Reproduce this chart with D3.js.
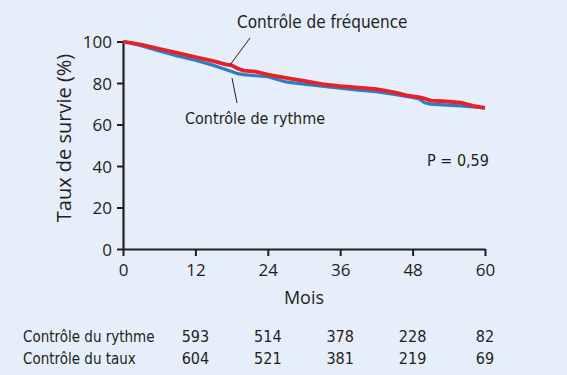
<!DOCTYPE html>
<html>
<head>
<meta charset="utf-8">
<script src="https://cdn.jsdelivr.net/npm/d3@7"></script>
<style>
  body { margin: 0; background: #e6eef9; }
  svg { display: block; font-family: "Liberation Sans Narrow", "DejaVu Sans Condensed", sans-serif; }
  text { fill: #231f20; }
</style>
</head>
<body>
<svg id="chart"></svg>
<script>
// Kaplan-Meier curves
const months = [0, 3, 6, 9, 12, 15, 17, 18, 19, 20, 22, 24, 27, 30, 33, 36, 39, 42, 45, 47, 49, 50, 51, 53, 56, 58, 60];
const rateControl = [100, 98.5, 96.5, 94.5, 92.5, 90.5, 89, 88.5, 87, 86, 85.5, 84, 82.5, 81, 79.5, 78.5, 77.8, 77, 75.5, 74, 73.2, 72.5, 71.5, 71.2, 70.5, 69, 68];
const rhythmControl = [100, 98, 95.5, 93, 91, 88.5, 86.5, 85.5, 84.5, 84, 83.5, 83, 80.5, 79.5, 78.5, 77.5, 76.5, 75.8, 74.5, 73.5, 72.5, 70.5, 69.8, 69.5, 69, 68.5, 68];

const xTicks = [0, 12, 24, 36, 48, 60];
const yTicks = [0, 20, 40, 60, 80, 100];

// patients at risk
const riskLabels = ["Contrôle du rythme", "Contrôle du taux"];
const riskRhythm = [593, 514, 378, 228, 82];
const riskRate = [604, 521, 381, 219, 69];
const riskMonths = [12, 24, 36, 48, 60];

const width = 567, height = 375;
const svg = d3.select("#chart").attr("width", width).attr("height", height);

const x = d3.scaleLinear().domain([0, 60]).range([123, 485]);
const y = d3.scaleLinear().domain([0, 100]).range([249, 41.5]);

// axes
const xAxis = svg.append("g")
  .attr("transform", `translate(0, ${y(0)})`)
  .call(d3.axisBottom(x).tickValues(xTicks).tickSize(7).tickSizeOuter(0).tickPadding(4));
const yAxis = svg.append("g")
  .attr("transform", `translate(${x(0)}, 0)`)
  .call(d3.axisLeft(y).tickValues(yTicks).tickSize(6).tickSizeOuter(0).tickPadding(5));

[xAxis, yAxis].forEach((g) => {
  g.select(".domain").attr("stroke", "#231f20").attr("stroke-width", 2.2);
  g.selectAll(".tick line").attr("stroke", "#231f20").attr("stroke-width", 2);
  g.selectAll(".tick text")
    .attr("fill", "#231f20")
    .style("font-family", '"Open Sans", sans-serif')
    .style("font-size", "17px");
});
xAxis.selectAll(".tick text").attr("dy", "0.95em");
yAxis.selectAll(".tick text").attr("dy", "0.36em");

// curves
const line = d3.line()
  .x((d) => x(d[0]))
  .y((d) => y(d[1]));

svg.append("path")
  .datum(months.map((m, i) => [m, rhythmControl[i]]))
  .attr("d", line)
  .attr("fill", "none")
  .attr("stroke", "#2a7fc4")
  .attr("stroke-width", 3.2);

svg.append("path")
  .datum(months.map((m, i) => [m, rateControl[i]]))
  .attr("d", line)
  .attr("fill", "none")
  .attr("stroke", "#e8202a")
  .attr("stroke-width", 3.8);

// annotations
svg.append("line")
  .attr("x1", 250).attr("y1", 38).attr("x2", 230).attr("y2", 65)
  .attr("stroke", "#231f20").attr("stroke-width", 1);
svg.append("line")
  .attr("x1", 232).attr("y1", 78).attr("x2", 237).attr("y2", 103)
  .attr("stroke", "#231f20").attr("stroke-width", 1);

svg.append("text")
  .attr("x", 237).attr("y", 28)
  .style("font-size", "17px")
  .text("Contrôle de fréquence");
svg.append("text")
  .attr("x", 185).attr("y", 124)
  .style("font-size", "16px")
  .text("Contrôle de rythme");
svg.append("text")
  .attr("x", 427).attr("y", 166)
  .style("font-size", "16px")
  .text("P = 0,59");

// axis titles
svg.append("text")
  .attr("transform", "translate(71, 138) rotate(-90)")
  .attr("text-anchor", "middle")
  .style("font-family", '"Open Sans", sans-serif')
  .style("font-size", "20px")
  .text("Taux de survie (%)");
svg.append("text")
  .attr("x", x(30)).attr("y", 304)
  .attr("text-anchor", "middle")
  .style("font-family", '"Open Sans", sans-serif')
  .style("font-size", "18px")
  .text("Mois");

// at-risk table
const rows = [riskRhythm, riskRate];
rows.forEach((vals, r) => {
  const yy = 342 + r * 22;
  svg.append("text")
    .attr("x", 23).attr("y", yy)
    .style("font-size", "15px")
    .text(riskLabels[r]);
  svg.selectAll(null)
    .data(vals)
    .join("text")
    .attr("x", (d, i) => x(riskMonths[i]))
    .attr("y", yy)
    .attr("text-anchor", "middle")
    .style("font-size", "16px")
    .text((d) => d);
});
</script>
</body>
</html>
